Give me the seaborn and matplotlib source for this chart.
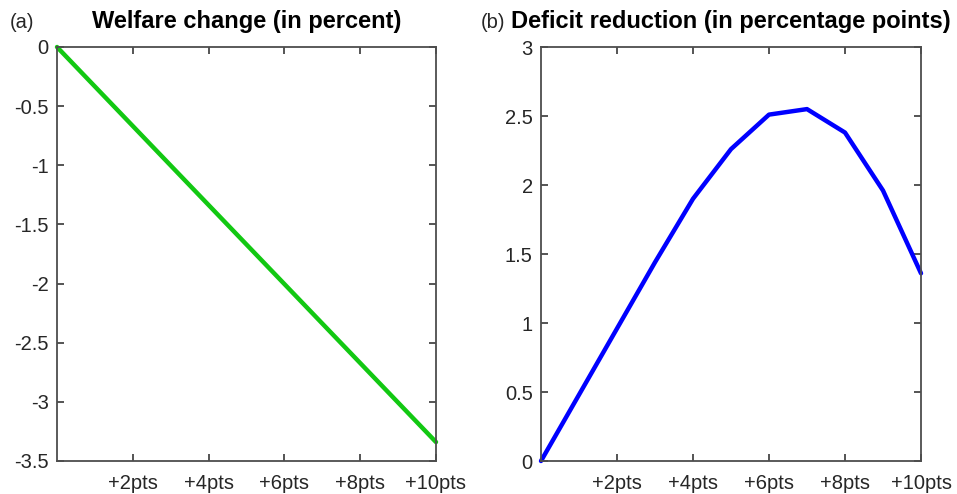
import pandas as pd
import matplotlib
matplotlib.use("Agg")
import matplotlib.pyplot as plt
import seaborn as sns

# ===============================
# Data
# ===============================
steps = [0, 1, 2, 3, 4, 5, 6, 7, 8, 9, 10]
welfare = [0, -0.334, -0.668, -1.002, -1.336, -1.67,
           -2.004, -2.338, -2.672, -3.006, -3.34]
deficit = [0, 0.48, 0.96, 1.44, 1.90, 2.26,
           2.51, 2.55, 2.38, 1.96, 1.36]

xticks = [2, 4, 6, 8, 10]
xtick_labels = ["+2pts", "+4pts", "+6pts", "+8pts", "+10pts"]
yticks_a = [0, -0.5, -1, -1.5, -2, -2.5, -3, -3.5]
yticks_b = [0, 0.5, 1, 1.5, 2, 2.5, 3]

df = pd.DataFrame({"step": steps, "welfare": welfare, "deficit": deficit})

sns.set_theme(style="ticks")
plt.rcParams["font.family"] = ["Liberation Sans", "DejaVu Sans"]

W, H = 957, 494
fig = plt.figure(figsize=(W / 100, H / 100), dpi=100)
ax_a = fig.add_axes([57 / W, 1 - 461 / H, (436 - 57) / W, 414 / H])
ax_b = fig.add_axes([541 / W, 1 - 461 / H, (921 - 541) / W, 414 / H])

ink = "#262626"

sns.lineplot(data=df, x="step", y="welfare", ax=ax_a, color="#12c812",
             linewidth=3.2, clip_on=False)
sns.lineplot(data=df, x="step", y="deficit", ax=ax_b, color="#0000ff",
             linewidth=3.2, clip_on=False)


def fmt(v):
    return ("%g" % v).replace("\u2212", "-")


for ax, yt, title in [(ax_a, yticks_a, "Welfare change (in percent)"),
                      (ax_b, yticks_b, "Deficit reduction (in percentage points)")]:
    ax.set_xlim(0, 10)
    ax.set_ylim(min(yt), max(yt))
    ax.set_xticks(xticks)
    ax.set_xticklabels(xtick_labels)
    ax.set_yticks(yt)
    ax.set_yticklabels([fmt(v) for v in yt])
    ax.set_xlabel("")
    ax.set_ylabel("")
    ax.tick_params(direction="in", length=5, width=1.1, colors=ink,
                   labelsize=14.5, top=True, right=True, pad=6)
    ax.tick_params(axis="x", pad=9)
    for s in ax.spines.values():
        s.set_visible(True)
        s.set_color("#4d4d4d")
        s.set_linewidth(1.3)
    ax.set_title(title, fontsize=17, fontweight="bold", color="black", pad=13.5)

fig.text(10 / W, 1 - 28 / H, "(a)", fontsize=14.5, color=ink, va="baseline")
fig.text(481 / W, 1 - 28 / H, "(b)", fontsize=14.5, color=ink, va="baseline")

fig.savefig("out.png", dpi=100)
